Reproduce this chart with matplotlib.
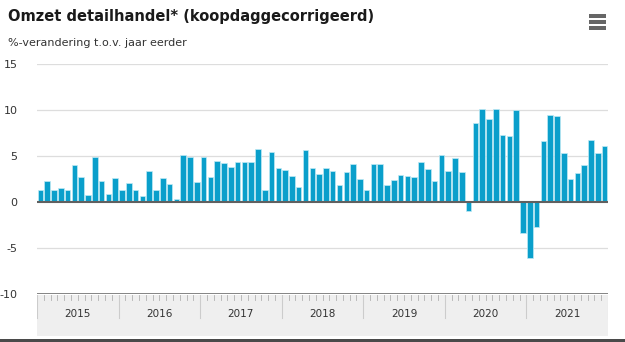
import numpy as np
import matplotlib.pyplot as plt
from matplotlib.patches import Rectangle

years = ['2015', '2016', '2017', '2018', '2019', '2020', '2021']

# maandelijkse %-verandering t.o.v. jaar eerder, jan 2015 - dec 2021
omzet = [
    1.3, 2.3, 1.3, 1.5, 1.3, 4.0, 2.7, 0.8, 4.9, 2.3, 0.9, 2.6,
    1.35, 2.1, 1.35, 0.7, 3.4, 1.3, 2.6, 2.0, 0.3, 5.1, 4.9, 2.2,
    4.9, 2.7, 4.5, 4.2, 3.8, 4.4, 4.4, 4.4, 5.8, 1.35, 5.4, 3.65,
    3.5, 2.8, 1.6, 5.65, 3.65, 3.05, 3.75, 3.4, 1.8, 3.3, 4.1, 2.45,
    1.35, 4.1, 4.1, 1.8, 2.4, 2.9, 2.8, 2.75, 4.3, 3.55, 2.3, 5.15,
    3.4, 4.8, 3.3, -1.0, 8.55, 10.1, 9.05, 10.1, 7.3, 7.2, 10.0, -3.4,
    -6.05, -2.7, 6.65, 9.5, 9.3, 5.35, 2.55, 3.2, 4.05, 6.75, 5.35, 6.1,
]

W, H = 625, 342
fig = plt.figure(figsize=(W / 100, H / 100), dpi=100)
fig.patch.set_facecolor('white')

x0, x1 = 37, 608
ax = fig.add_axes([x0 / W, 1 - 294 / H, (x1 - x0) / W, (294 - 64) / H])
x = np.arange(len(omzet))
ax.bar(x, omzet, width=0.82, color='#0a9fcb', edgecolor='#bfeaf5', linewidth=0.5, zorder=3)
ax.set_xlim(-0.5, len(years) * 12 - 0.5)
ax.set_ylim(-10, 15)
ax.set_yticks([-10, -5, 0, 5, 10, 15])
ax.set_yticklabels(['-10', '-5', '0', '5', '10', '15'])
ax.tick_params(axis='y', length=0, pad=14, labelsize=8, labelcolor='#333333')
ax.set_xticks([])
for v in [-5, 5, 10, 15]:
    ax.axhline(v, color='#dddddd', lw=0.9, zorder=1)
ax.axhline(0, color='#606060', lw=1.5, zorder=4)
ax.axhline(-10, color='#707070', lw=1.2, zorder=4)
for s in ax.spines.values():
    s.set_visible(False)

# jaarband onder de grafiek
bx = fig.add_axes([x0 / W, 1 - 336 / H, (x1 - x0) / W, (336 - 295) / H])
bx.set_xlim(-0.5, len(years) * 12 - 0.5)
bx.set_ylim(0, 1)
bx.add_patch(Rectangle((-0.5, 0), len(years) * 12, 1, color='#efefef', lw=0))
for m in range(len(years) * 12 + 1):
    bx.plot([m - 0.5, m - 0.5], [1, 0.88], color='#b0b0b0', lw=0.6)
for i, yr in enumerate(years):
    bx.plot([i * 12 - 0.5, i * 12 - 0.5], [1, 0.45], color='#cccccc', lw=0.8)
    bx.text(i * 12 + 5.5, 0.53, yr, ha='center', va='center', fontsize=7.5, color='#333333')
bx.plot([len(years) * 12 - 0.5] * 2, [1, 0.45], color='#cccccc', lw=0.8)
bx.axis('off')

fig.patches.append(Rectangle((0, 0), 1, 3 / H, transform=fig.transFigure, color='#4a4a4a', lw=0))

fig.text(8 / W, 1 - 17 / H, 'Omzet detailhandel* (koopdaggecorrigeerd)', fontsize=10.5,
         fontweight='bold', color='#1a1a1a', va='center', ha='left')
fig.text(8 / W, 1 - 43 / H, '%-verandering t.o.v. jaar eerder', fontsize=8, color='#333333',
         va='center', ha='left')

# menu-icoon
for dy in [16, 22, 28]:
    fig.patches.append(Rectangle((589 / W, 1 - (dy + 1.5) / H), 17 / W, 3 / H,
                                 transform=fig.transFigure, color='#666666', lw=0))

fig.savefig('out.png', dpi=100)
